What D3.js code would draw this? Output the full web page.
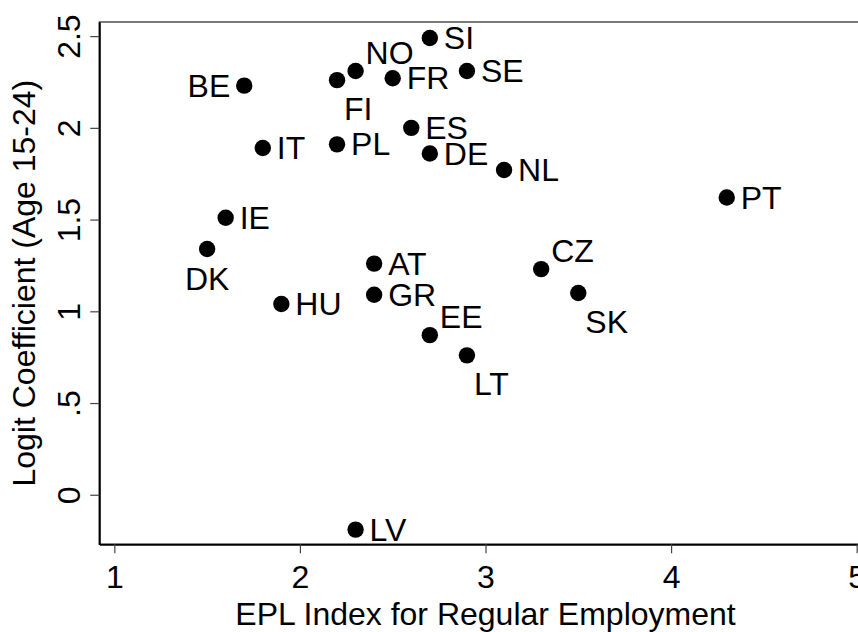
<!DOCTYPE html>
<html>
<head>
<meta charset="utf-8">
<script src="https://cdn.jsdelivr.net/npm/d3@7"></script>
<style>
  html, body { margin: 0; padding: 0; background: #fff; }
  text { font-family: "Liberation Sans", Arial, sans-serif; fill: #000; }
</style>
</head>
<body>
<div id="container"></div>
<script>
// data
const countries = ["BE", "FI", "NO", "FR", "SI", "SE", "ES", "IT", "PL", "DE", "NL", "PT",
                   "IE", "DK", "HU", "AT", "GR", "EE", "LT", "CZ", "SK", "LV"];
const eplIndex = [1.7, 2.2, 2.3, 2.5, 2.7, 2.9, 2.6, 1.8, 2.2, 2.7, 3.1, 4.3,
                  1.6, 1.5, 1.9, 2.4, 2.4, 2.7, 2.9, 3.3, 3.5, 2.3];
const logitCoef = [2.23, 2.26, 2.31, 2.27, 2.49, 2.31, 2.00, 1.89, 1.91, 1.86, 1.77, 1.62,
                   1.51, 1.34, 1.04, 1.26, 1.09, 0.87, 0.76, 1.23, 1.10, -0.19];
// marker label clock position (Stata mlabvpos)
const labelClock = [9, 5, 1, 3, 3, 3, 3, 3, 3, 3, 3, 3,
                    3, 6, 3, 3, 3, 1, 5, 1, 5, 3];
const xTicks = [1, 2, 3, 4, 5];
const yTicks = [0, 0.5, 1, 1.5, 2, 2.5];

const WIDTH = 858;
const HEIGHT = 632;
const FONT = 32;

const svg = d3.select("#container")
    .append("svg")
    .attr("width", WIDTH)
    .attr("height", HEIGHT);

const xScale = d3.scaleLinear()
    .domain([0.919, 5.081])
    .range([99.3, 871.7]);

const yScale = d3.scaleLinear()
    .domain([-0.27, 2.577])
    .range([544.3, 22]);

const fmt = (d) => String(d).replace(/^0\./, ".");

// plot region box
svg.append("rect")
    .attr("x", xScale.range()[0])
    .attr("y", yScale.range()[1])
    .attr("width", xScale.range()[1] - xScale.range()[0])
    .attr("height", yScale.range()[0] - yScale.range()[1])
    .attr("fill", "none")
    .attr("stroke", "#333")
    .attr("stroke-width", 1.3);

// x axis
const bottomAxis = d3.axisBottom(xScale)
    .tickValues(xTicks)
    .tickFormat(fmt)
    .tickSize(9)
    .tickSizeOuter(0)
    .tickPadding(12);

const gx = svg.append("g")
    .attr("transform", "translate(0," + yScale.range()[0] + ")")
    .call(bottomAxis);
gx.select(".domain").attr("stroke", "#000").attr("stroke-width", 2);
gx.selectAll(".tick line").attr("stroke", "#444").attr("stroke-width", 1.2);
gx.selectAll(".tick text")
    .attr("font-size", FONT)
    .attr("font-family", "Liberation Sans, Arial, sans-serif")
    .attr("fill", "#000");

// y axis
const leftAxis = d3.axisLeft(yScale)
    .tickValues(yTicks)
    .tickFormat(fmt)
    .tickSize(9)
    .tickSizeOuter(0);

const gy = svg.append("g")
    .attr("transform", "translate(" + xScale.range()[0] + ",0)")
    .call(leftAxis);
gy.select(".domain").attr("stroke", "#000").attr("stroke-width", 2);
gy.selectAll(".tick line").attr("stroke", "#444").attr("stroke-width", 1.2);
gy.selectAll(".tick text")
    .attr("font-size", FONT)
    .attr("font-family", "Liberation Sans, Arial, sans-serif")
    .attr("fill", "#000")
    .attr("x", null)
    .attr("dy", null)
    .attr("text-anchor", "middle")
    .attr("transform", "translate(-19,0) rotate(-90)");

// axis titles
svg.append("text")
    .attr("x", (xScale.range()[0] + xScale.range()[1]) / 2)
    .attr("y", 625)
    .attr("text-anchor", "middle")
    .attr("font-size", FONT)
    .text("EPL Index for Regular Employment");

svg.append("text")
    .attr("transform", "translate(35," + (yScale.range()[0] + yScale.range()[1]) / 2 + ") rotate(-90)")
    .attr("text-anchor", "middle")
    .attr("font-size", FONT)
    .text("Logit Coefficient (Age 15-24)");

// points
const points = countries.map((c, i) => ({ name: c, x: eplIndex[i], y: logitCoef[i], pos: labelClock[i] }));

svg.selectAll("circle.pt")
    .data(points)
    .enter()
    .append("circle")
    .attr("class", "pt")
    .attr("cx", (d) => xScale(d.x))
    .attr("cy", (d) => yScale(d.y))
    .attr("r", 8.2)
    .attr("fill", "#000");

// label offsets by clock position
const offsets = {
    3: { dx: 14, dy: 11, anchor: "start" },
    9: { dx: -14, dy: 11, anchor: "end" },
    1: { dx: 10, dy: -7, anchor: "start" },
    5: { dx: 7, dy: 40, anchor: "start" },
    6: { dx: 0, dy: 41, anchor: "middle" }
};

svg.selectAll("text.lbl")
    .data(points)
    .enter()
    .append("text")
    .attr("class", "lbl")
    .attr("x", (d) => xScale(d.x) + offsets[d.pos].dx)
    .attr("y", (d) => yScale(d.y) + offsets[d.pos].dy)
    .attr("text-anchor", (d) => offsets[d.pos].anchor)
    .attr("font-size", FONT)
    .text((d) => d.name);
</script>
</body>
</html>
